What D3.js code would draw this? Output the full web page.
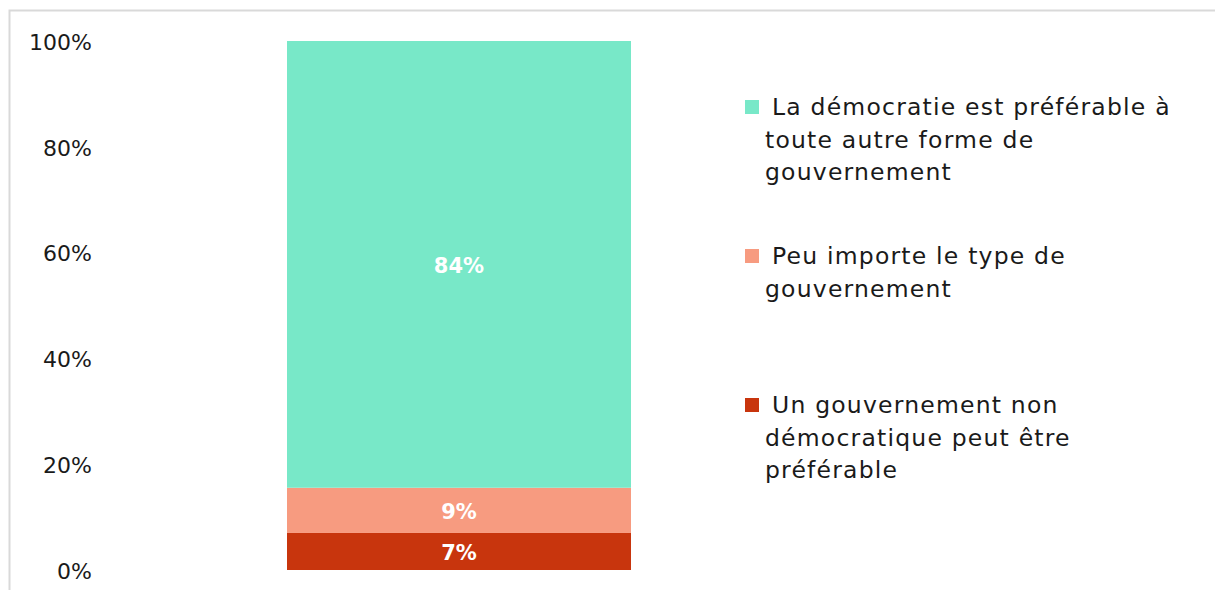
<!DOCTYPE html>
<html>
<head>
<meta charset="utf-8">
<script src="https://cdn.jsdelivr.net/npm/d3@7"></script>
<style>
  html, body { margin: 0; padding: 0; background: #fff; }
  svg { display: block; }
  text { font-family: "DejaVu Sans", "Liberation Sans", sans-serif; }
</style>
</head>
<body>
<svg id="chart" width="1215" height="590"></svg>
<script>
// ---- data ----
const seriesNames = [
  "Un gouvernement non\ndémocratique peut être\npréférable",
  "Peu importe le type de\ngouvernement",
  "La démocratie est préférable à\ntoute autre forme de\ngouvernement"
];
const seriesValues = [7.0, 8.55, 84.45];
const seriesColors = ["#C8350D", "#F79B80", "#78E8C8"];
const yTicks = [0, 20, 40, 60, 80, 100];
const category = ["Réponses"];

// ---- layout ----
const svg = d3.select("#chart");
const W = 1215, H = 590;
const plot = { left: 287, right: 631, top: 41, bottom: 570 };

// frame border (top and left)
svg.append("path")
  .attr("d", `M9.5,${H} L9.5,10.5 L${W},10.5`)
  .attr("fill", "none")
  .attr("stroke", "#d9d9d9")
  .attr("stroke-width", 2);

const x = d3.scaleBand().domain(category).range([plot.left, plot.right]).padding(0);
const y = d3.scaleLinear().domain([0, 100]).range([plot.bottom, plot.top]);

// y axis labels
const yAxis = d3.axisLeft(y).tickValues(yTicks).tickFormat(d => d + "%").tickSize(0).tickPadding(0);
const gy = svg.append("g").attr("transform", "translate(92,0)").call(yAxis);
gy.select(".domain").remove();
gy.selectAll("text")
  .attr("font-family", "DejaVu Sans, sans-serif")
  .attr("font-size", 22)
  .attr("fill", "#1a1a1a")
  .attr("dy", "0.38em");

// stacked data
let acc = 0;
const stacked = seriesValues.map((v, i) => {
  const d = { name: seriesNames[i], value: v, color: seriesColors[i], y0: acc, y1: acc + v };
  acc += v;
  return d;
});

svg.append("g").selectAll("rect")
  .data(stacked)
  .join("rect")
  .attr("x", x(category[0]))
  .attr("width", x.bandwidth())
  .attr("y", d => y(d.y1))
  .attr("height", d => y(d.y0) - y(d.y1))
  .attr("fill", d => d.color);

svg.append("g").selectAll("text")
  .data(stacked)
  .join("text")
  .attr("x", x(category[0]) + x.bandwidth() / 2)
  .attr("y", d => (y(d.y0) + y(d.y1)) / 2)
  .attr("dy", "0.4em")
  .attr("text-anchor", "middle")
  .attr("font-size", 21)
  .attr("font-weight", "bold")
  .attr("fill", "#ffffff")
  .text(d => Math.round(d.value) + "%");

// legend (top to bottom: reverse of stacking)
const legendItems = stacked.slice().reverse();
const legendTop = [107, 256, 405];
const lineH = 32.5;
const lg = svg.append("g");
legendItems.forEach((d, i) => {
  const g = lg.append("g");
  const y0 = legendTop[i];
  g.append("rect")
    .attr("x", 745).attr("y", y0 - 7)
    .attr("width", 14).attr("height", 14)
    .attr("fill", d.color);
  const lines = d.name.split("\n");
  const t = g.append("text")
    .attr("font-size", 23.5)
    .attr("letter-spacing", 1.2)
    .attr("fill", "#1a1a1a");
  lines.forEach((ln, j) => {
    t.append("tspan")
      .attr("x", j === 0 ? 772 : 765)
      .attr("y", y0 + j * lineH)
      .attr("dy", "0.36em")
      .text(ln);
  });
});
</script>
</body>
</html>
